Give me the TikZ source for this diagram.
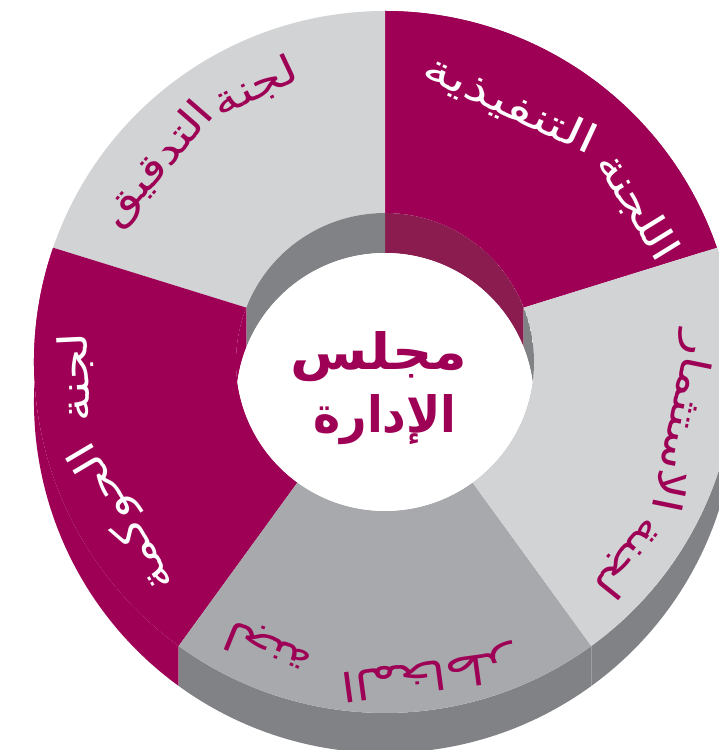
\documentclass[tikz,border=0pt]{standalone}
\usepackage{fontspec}
\usetikzlibrary{calc}
\TeXXeTstate=1
\newfontfamily\arabicfont[Script=Arabic, FakeStretch=1.25]{DejaVu Sans}
\newfontfamily\arabiclong[Script=Arabic, FakeStretch=1.4]{DejaVu Sans}
\newfontfamily\arabicwide[Script=Arabic, FakeStretch=1.12]{DejaVu Sans Bold}
\newfontfamily\arabicnarrow[Script=Arabic, FakeStretch=0.92]{DejaVu Sans Bold}
\definecolor{mag}{HTML}{9E0056}
\definecolor{magdark}{HTML}{8B1C50}
\definecolor{greylight}{HTML}{D1D3D4}
\definecolor{greymid}{HTML}{A7A9AC}
\definecolor{greydark}{HTML}{808285}
\tikzset{
  lbl/.style={font=\arabicfont\fontsize{40}{40}\selectfont, inner sep=0pt},
  ctr/.style={inner sep=0pt, text=mag}
}
\begin{document}
\begin{tikzpicture}[x=1pt,y=1pt]
\useasboundingbox (0,0) rectangle (719,750);
\clip (0,0) rectangle (719,750);
\coordinate (C) at (385,388);
\coordinate (C2) at (385,348);
% outer side walls
\foreach \a/\b/\col in {19/90/magdark, 161/234/mag, 234/306/greydark, -54/19/greydark}{
  \fill[\col] ($(C)+(\a:351)$) arc[start angle=\a, end angle=\b, radius=351]
     -- ++(0,-40) arc[start angle=\b, end angle=\a, radius=351] -- cycle;
}
% top faces
\foreach \a/\b/\c/\d/\col in {19/90/21.4/90/mag, 90/161/90/158.6/greylight, 161/234/158.6/234/mag, 234/306/234/306/greymid, -54/19/-54/21.4/greylight}{
  \fill[\col] ($(C)+(\a:351)$) arc[start angle=\a, end angle=\b, radius=351]
     -- ($(C)+(\d:149)$) arc[start angle=\d, end angle=\c, radius=149] -- cycle;
}
% inner walls
\begin{scope}
\clip (C) circle[radius=149];
\foreach \c/\d/\col in {21.4/90/magdark, 90/158.6/greydark, 158.6/234/mag, 234/306/greydark, -54/21.4/greydark}{
  \fill[\col] ($(C)+(\c:149)$) arc[start angle=\c, end angle=\d, radius=149]
     -- ++(0,-40) arc[start angle=\d, end angle=\c, radius=149] -- cycle;
}
\fill[white] (C2) circle[radius=149];
\end{scope}
% centre
\node[ctr, font=\arabicwide\fontsize{50}{50}\selectfont] (c1) at (379,393) {\beginR مجلس\endR};
\node[ctr, font=\arabicnarrow\fontsize{50}{50}\selectfont] (c2) at (385,330) {\beginR الإدارة\endR};
% labels
\node[lbl, font=\arabiclong\fontsize{40}{40}\selectfont, text=white, rotate=-25] (t1a) at ($(C)+(64:286)$) {\beginR التنفيذية\endR};
\node[lbl, text=white, rotate=-58.4] (t1b) at ($(C)+(31.6:296)$) {\beginR اللجنة\endR};
\node[lbl, text=mag, rotate=25.3] (t2a) at ($(C)+(115.3:304)$) {\beginR لجنة\endR};
\node[lbl, text=mag, rotate=49] (t2b) at ($(C)+(139:300)$) {\beginR التدقيق\endR};
\node[lbl, text=mag, rotate=-101.5] (t3a) at ($(C)+(-11.5:301)$) {\beginR الاستثمار\endR};
\node[lbl, text=mag, rotate=-128.7] (t3b) at ($(C)+(-38.7:313)$) {\beginR لجنة\endR};
\node[lbl, text=mag, rotate=-202.2] (t4a) at ($(C)+(-112.2:309)$) {\beginR لجنة\endR};
\node[lbl, text=mag, rotate=-172.3] (t4b) at ($(C)+(-82.3:313)$) {\beginR المخاطر\endR};
\node[lbl, text=white, rotate=92.8] (t5a) at ($(C)+(182.8:309)$) {\beginR لجنة\endR};
\node[lbl, text=white, rotate=120.6] (t5b) at ($(C)+(210.6:304)$) {\beginR الحوكمة\endR};
\end{tikzpicture}
\end{document}
